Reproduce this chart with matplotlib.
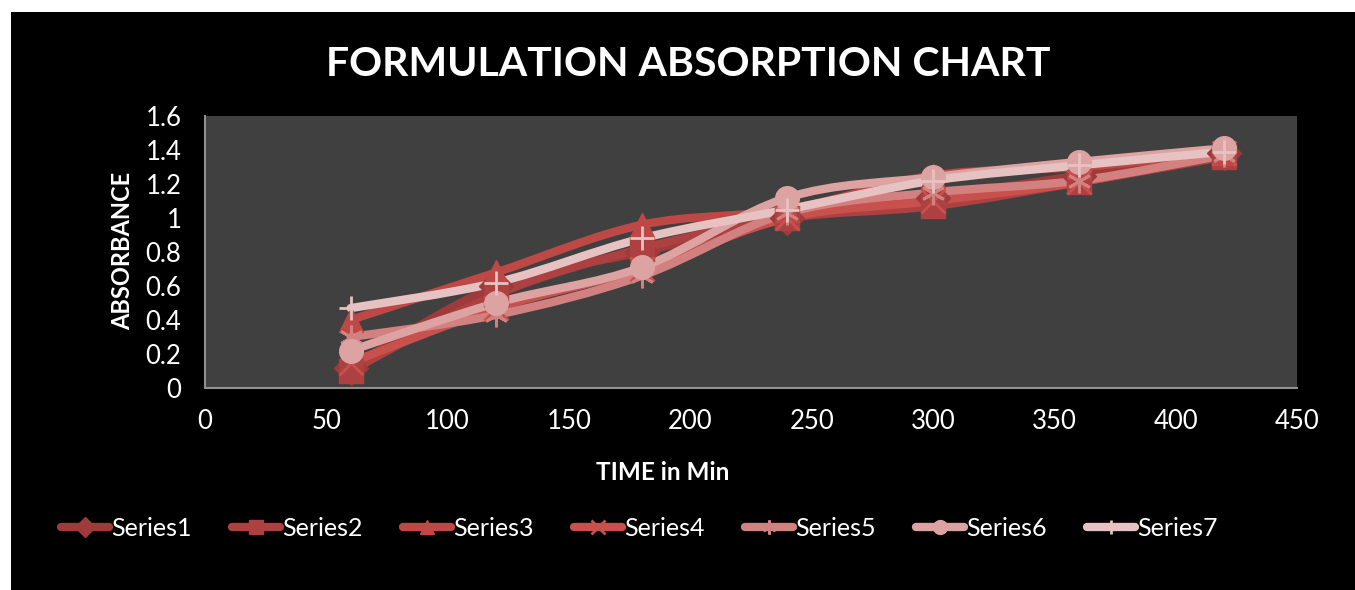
import numpy as np
import matplotlib
matplotlib.use("Agg")
import matplotlib.pyplot as plt
from matplotlib.path import Path
from matplotlib.patches import PathPatch, Rectangle
from matplotlib.lines import Line2D

plt.rcParams['font.family'] = ['Lato', 'DejaVu Sans']

# time points (min) and absorbance per series
time_min = [60, 120, 180, 240, 300, 360, 420]
series1 = [0.12, 0.60, 0.80, 1.00, 1.12, 1.25, 1.38]
series2 = [0.10, 0.55, 0.82, 1.00, 1.07, 1.21, 1.36]
series3 = [0.40, 0.68, 0.96, 1.05, 1.25, 1.30, 1.38]
series4 = [0.15, 0.47, 0.70, 1.00, 1.10, 1.21, 1.38]
series5 = [0.30, 0.43, 0.66, 1.03, 1.15, 1.22, 1.37]
series6 = [0.22, 0.50, 0.71, 1.12, 1.24, 1.33, 1.41]
series7 = [0.47, 0.62, 0.88, 1.05, 1.22, 1.31, 1.39]

names = ["Series1", "Series2", "Series3", "Series4", "Series5", "Series6", "Series7"]
values = [series1, series2, series3, series4, series5, series6, series7]
colors = ["#9e3a3a", "#ad4040", "#bd4846", "#c8504d", "#d38180", "#dca3a2", "#e6c3c2"]
markers = ["D", "s", "^", "x", (6, 2, 0), "o", "+"]


def smooth_path(x, y):
    """Excel-like smoothed line: Catmull-Rom segments as cubic Beziers."""
    pts = np.column_stack([x, y]).astype(float)
    n = len(pts)
    verts = [pts[0]]
    codes = [Path.MOVETO]
    for i in range(n - 1):
        p0 = pts[max(i - 1, 0)]
        p1 = pts[i]
        p2 = pts[i + 1]
        p3 = pts[min(i + 2, n - 1)]
        c1 = p1 + (p2 - p0) / 6.0
        c2 = p2 - (p3 - p1) / 6.0
        verts += [c1, c2, p2]
        codes += [Path.CURVE4] * 3
    return Path(verts, codes)


fig = plt.figure(figsize=(13.55, 5.9), dpi=100)
fig.patch.set_facecolor("white")
# black chart area (white strip at top and left)
fig.patches.append(Rectangle((11 / 1355, 0), 1, 1 - 12 / 590, transform=fig.transFigure,
                             facecolor="black", edgecolor="none", zorder=-10))

ax = fig.add_axes([205 / 1355, 1 - 388 / 590, 1092 / 1355, 272 / 590])
ax.set_facecolor("#404040")

handles = []
for name, vals, col, mk in zip(names, values, colors, markers):
    ax.add_patch(PathPatch(smooth_path(time_min, vals), facecolor="none",
                           edgecolor=col, lw=6, capstyle="round", joinstyle="round"))
    ew = 2.0 if mk in ("x", "+", (6, 2, 0)) else 1.0
    ax.plot(time_min, vals, linestyle="none", marker=mk, ms=17, color=col,
            markeredgecolor=col, markeredgewidth=ew)
    handles.append(Line2D([], [], color=col, lw=6, solid_capstyle="round",
                          marker=mk, ms=10, markeredgecolor=col, markeredgewidth=ew))

ax.set_xlim(0, 450)
ax.set_ylim(0, 1.6)
ax.set_xticks(np.arange(0, 451, 50))
ax.set_yticks(np.arange(0, 1.61, 0.2))
ax.set_yticklabels(["0", "0.2", "0.4", "0.6", "0.8", "1", "1.2", "1.4", "1.6"])
ax.tick_params(colors="white", labelsize=18.5, length=0)
ax.tick_params(axis="y", pad=17)
ax.tick_params(axis="x", pad=15)
for s in ["top", "right"]:
    ax.spines[s].set_visible(False)
for s in ["left", "bottom"]:
    ax.spines[s].set_color("#909090")
    ax.spines[s].set_linewidth(1.5)

fig.text(663 / 1355, 1 - 473 / 590, "TIME in Min", color="white", fontsize=17.5,
         fontweight="bold", ha="center", va="center")
fig.text(123 / 1355, 1 - 251 / 590, "ABSORBANCE", color="white", fontsize=17,
         fontweight="bold", ha="center", va="center", rotation=90)

fig.text(0.508, 0.89, "FORMULATION ABSORPTION CHART", color="white", fontsize=29.5,
         fontweight="bold", ha="center", va="center")

fig.legend(handles=handles, labels=names, loc="center", bbox_to_anchor=(0.472, 0.105),
           ncol=7, frameon=False, fontsize=18, labelcolor="white", handlelength=1.9,
           columnspacing=1.62, handletextpad=0.1)

fig.savefig("out.png", dpi=100, facecolor=fig.get_facecolor())
